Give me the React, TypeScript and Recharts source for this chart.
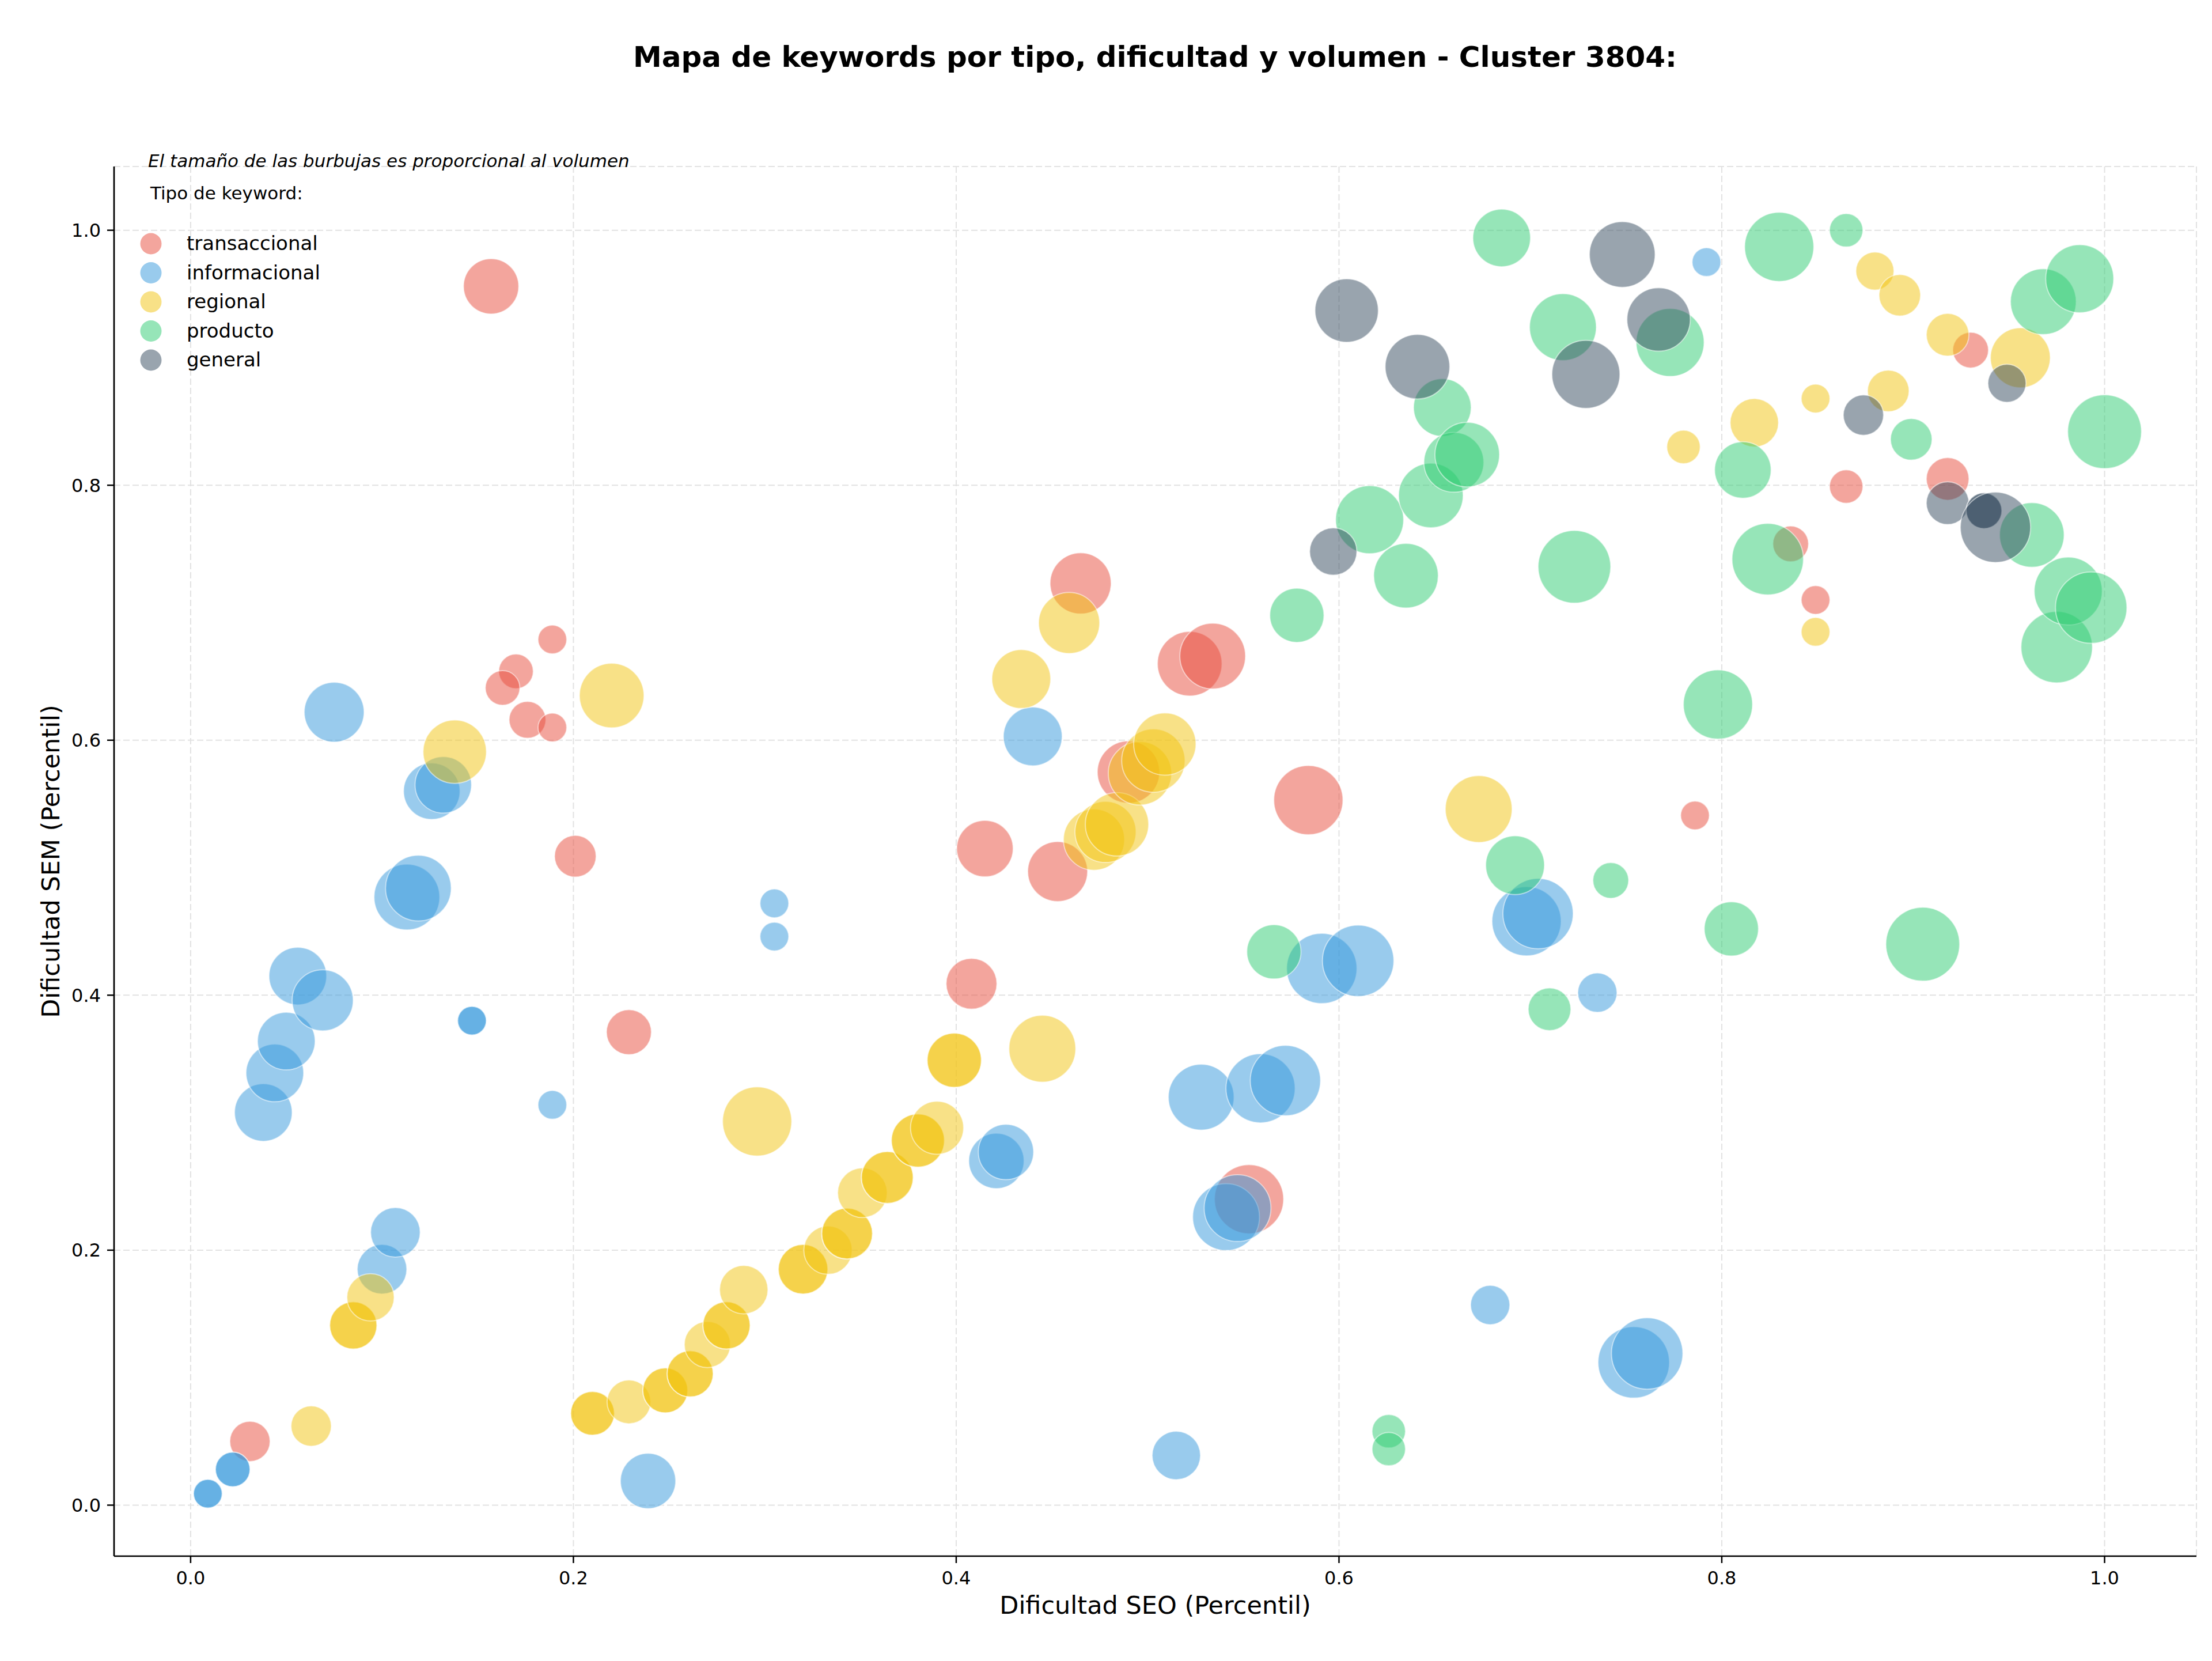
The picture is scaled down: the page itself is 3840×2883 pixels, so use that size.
import { ScatterChart, Scatter, XAxis, YAxis, ZAxis, CartesianGrid } from 'recharts';

// [dificultad SEO, dificultad SEM, volumen]
type Keyword = [number, number, number];

const transaccional: Keyword[] = [
  [0.157, 0.956, 2300], [0.189, 0.679, 620], [0.170, 0.654, 900], [0.163, 0.641, 900],
  [0.176, 0.616, 1020], [0.189, 0.610, 620], [0.201, 0.509, 1300], [0.229, 0.371, 1520],
  [0.031, 0.050, 1220], [0.465, 0.723, 2810], [0.522, 0.660, 3140], [0.534, 0.666, 3250],
  [0.490, 0.575, 2920], [0.415, 0.515, 2400], [0.453, 0.497, 2700], [0.408, 0.409, 1940],
  [0.584, 0.553, 3600], [0.553, 0.240, 3600], [0.786, 0.541, 620], [0.836, 0.754, 960],
  [0.849, 0.710, 620], [0.865, 0.799, 840], [0.918, 0.805, 1370], [0.930, 0.906, 960],
];

const informacional: Keyword[] = [
  [0.009, 0.009, 620], [0.009, 0.009, 620], [0.022, 0.028, 900], [0.022, 0.028, 900],
  [0.038, 0.308, 2500], [0.044, 0.339, 2500], [0.050, 0.364, 2500], [0.056, 0.415, 2500],
  [0.069, 0.396, 2810], [0.075, 0.622, 2700], [0.100, 0.185, 1850], [0.107, 0.214, 1850],
  [0.113, 0.477, 3250], [0.119, 0.484, 3250], [0.126, 0.560, 2400], [0.132, 0.565, 2400],
  [0.147, 0.380, 620], [0.147, 0.380, 620], [0.189, 0.314, 620], [0.239, 0.019, 2300],
  [0.305, 0.472, 620], [0.305, 0.446, 620], [0.421, 0.270, 2300], [0.426, 0.277, 2300],
  [0.440, 0.603, 2600], [0.515, 0.039, 1760], [0.528, 0.320, 3250], [0.541, 0.226, 3360],
  [0.547, 0.233, 3360], [0.559, 0.327, 3600], [0.572, 0.333, 3720], [0.591, 0.421, 3720],
  [0.610, 0.427, 3840], [0.679, 0.157, 1160], [0.698, 0.458, 3600], [0.704, 0.464, 3720],
  [0.735, 0.402, 1160], [0.754, 0.112, 3840], [0.761, 0.119, 3840], [0.792, 0.975, 620],
];

const regional: Keyword[] = [
  [0.063, 0.062, 1220], [0.085, 0.141, 1680], [0.085, 0.141, 1680], [0.094, 0.163, 1680],
  [0.138, 0.591, 3020], [0.210, 0.072, 1440], [0.210, 0.072, 1440], [0.220, 0.635, 3140],
  [0.229, 0.081, 1440], [0.248, 0.090, 1520], [0.248, 0.090, 1520], [0.261, 0.103, 1600],
  [0.261, 0.103, 1600], [0.270, 0.126, 1600], [0.280, 0.141, 1680], [0.280, 0.141, 1680],
  [0.289, 0.169, 1760], [0.296, 0.301, 3600], [0.320, 0.185, 1850], [0.320, 0.185, 1850],
  [0.333, 0.200, 1760], [0.343, 0.213, 1940], [0.343, 0.213, 1940], [0.351, 0.245, 1850],
  [0.364, 0.257, 2020], [0.364, 0.257, 2020], [0.380, 0.286, 2120], [0.380, 0.286, 2120],
  [0.390, 0.296, 2120], [0.399, 0.349, 2210], [0.399, 0.349, 2210], [0.434, 0.648, 2600],
  [0.445, 0.358, 3360], [0.459, 0.692, 2810], [0.472, 0.522, 2810], [0.478, 0.528, 2810],
  [0.484, 0.534, 3020], [0.496, 0.574, 3020], [0.503, 0.584, 3020], [0.509, 0.597, 2920],
  [0.673, 0.546, 3360], [0.780, 0.830, 840], [0.817, 0.849, 1760], [0.849, 0.868, 620],
  [0.849, 0.685, 620], [0.880, 0.968, 1090], [0.887, 0.874, 1300], [0.893, 0.949, 1300],
  [0.918, 0.918, 1370], [0.956, 0.900, 2700],
];

const producto: Keyword[] = [
  [0.566, 0.434, 2210], [0.578, 0.698, 2210], [0.616, 0.773, 3480], [0.626, 0.058, 840],
  [0.626, 0.044, 840], [0.635, 0.729, 3140], [0.648, 0.792, 3140], [0.654, 0.861, 2500],
  [0.660, 0.818, 2700], [0.667, 0.824, 3140], [0.685, 0.994, 2500], [0.692, 0.502, 2600],
  [0.710, 0.389, 1370], [0.717, 0.924, 3360], [0.723, 0.736, 3970], [0.742, 0.490, 960],
  [0.773, 0.912, 3480], [0.798, 0.628, 3600], [0.805, 0.452, 2210], [0.811, 0.812, 2400],
  [0.824, 0.742, 3840], [0.830, 0.987, 3600], [0.865, 1.000, 840], [0.899, 0.836, 1300],
  [0.905, 0.440, 4100], [0.962, 0.761, 3140], [0.968, 0.944, 3250], [0.975, 0.673, 3840],
  [0.981, 0.717, 3480], [0.987, 0.962, 3480], [0.993, 0.704, 3840], [1.000, 0.842, 4100],
];

const general: Keyword[] = [
  [0.597, 0.748, 1680], [0.604, 0.937, 3020], [0.641, 0.893, 3140], [0.729, 0.887, 3480],
  [0.748, 0.981, 3250], [0.767, 0.930, 3020], [0.874, 0.855, 1220], [0.918, 0.786, 1370],
  [0.937, 0.780, 960], [0.937, 0.780, 960], [0.943, 0.767, 3720], [0.949, 0.880, 1090],
];

const tipos = ['transaccional', 'informacional', 'regional', 'producto', 'general'];
const colores = ['#E74C3C', '#3498DB', '#F1C40F', '#2ECC71', '#34495E'];
const series = [transaccional, informacional, regional, producto, general];
const axisTicks = [0, 0.2, 0.4, 0.6, 0.8, 1.0];

const W = 3840;
const H = 2883;
const FONT = '"DejaVu Sans", sans-serif';

const toRows = (pts: Keyword[]) => pts.map(([seo, sem, volumen]) => ({ seo, sem, volumen }));

function Bubble(props: any) {
  const { cx, cy, size, width, color } = props;
  const r = size != null ? Math.sqrt(size / Math.PI) : width / 2;
  return (
    <circle
      cx={cx}
      cy={cy}
      r={r}
      fill={color}
      fillOpacity={0.5}
      stroke="#ffffff"
      strokeOpacity={0.5}
      strokeWidth={2}
    />
  );
}

const fmt = (v: number) => v.toFixed(1);

export default function App() {
  return (
    <div style={{ position: 'absolute', left: 0, top: 0, width: W, height: H, background: '#fff', fontFamily: FONT }}>
      <ScatterChart width={W} height={H} margin={{ top: 289, right: 27, bottom: 0, left: 0 }}>
        <CartesianGrid stroke="#e2e2e2" strokeWidth={2} strokeDasharray="11 5" />
        <XAxis
          type="number"
          dataKey="seo"
          domain={[-0.04, 1.048]}
          ticks={axisTicks}
          tickFormatter={fmt}
          allowDataOverflow
          height={182}
          tickSize={12}
          tickMargin={14}
          axisLine={{ stroke: '#000', strokeWidth: 2.7 }}
          tickLine={{ stroke: '#000', strokeWidth: 2.5 }}
          tick={{ fontSize: 32, fill: '#000', fontFamily: FONT }}
          label={{ value: 'Dificultad SEO (Percentil)', position: 'insideBottom', offset: 82, fontSize: 43, fill: '#000', fontFamily: FONT }}
        />
        <YAxis
          type="number"
          dataKey="sem"
          domain={[-0.04, 1.05]}
          ticks={axisTicks}
          tickFormatter={fmt}
          allowDataOverflow
          width={198}
          tickSize={12}
          tickMargin={11}
          axisLine={{ stroke: '#000', strokeWidth: 2.7 }}
          tickLine={{ stroke: '#000', strokeWidth: 2.5 }}
          tick={{ fontSize: 32, fill: '#000', fontFamily: FONT }}
        />
        <ZAxis type="number" dataKey="volumen" domain={[0, 4900]} range={[0, Math.PI * 4900]} />
        {series.map((pts, i) => (
          <Scatter
            key={tipos[i]}
            name={tipos[i]}
            data={toRows(pts)}
            fill={colores[i]}
            isAnimationActive={false}
            shape={(p: any) => <Bubble {...p} color={colores[i]} />}
          />
        ))}
      </ScatterChart>

      <svg width={W} height={H} style={{ position: 'absolute', left: 0, top: 0, pointerEvents: 'none' }} fontFamily={FONT}>
        <text x={2005} y={116} textAnchor="middle" fontSize={50} fontWeight="bold" fill="#000">
          Mapa de keywords por tipo, dificultad y volumen - Cluster 3804:
        </text>
        <text x={103} y={1495} textAnchor="middle" fontSize={43} fill="#000" transform="rotate(-90 103 1495)">
          Dificultad SEM (Percentil)
        </text>

        <text x={257} y={290} fontSize={31} fontStyle="italic" fill="#000">
          El tamaño de las burbujas es proporcional al volumen
        </text>
        <text x={261} y={346} fontSize={31} fill="#000">
          Tipo de keyword:
        </text>
        {tipos.map((t, i) => {
          const cy = 423 + i * 50.5;
          return (
            <g key={t}>
              <circle cx={262} cy={cy} r={18.5} fill={colores[i]} fillOpacity={0.5} />
              <text x={324} y={cy + 11} fontSize={34} fill="#000">
                {t}
              </text>
            </g>
          );
        })}
      </svg>
    </div>
  );
}
